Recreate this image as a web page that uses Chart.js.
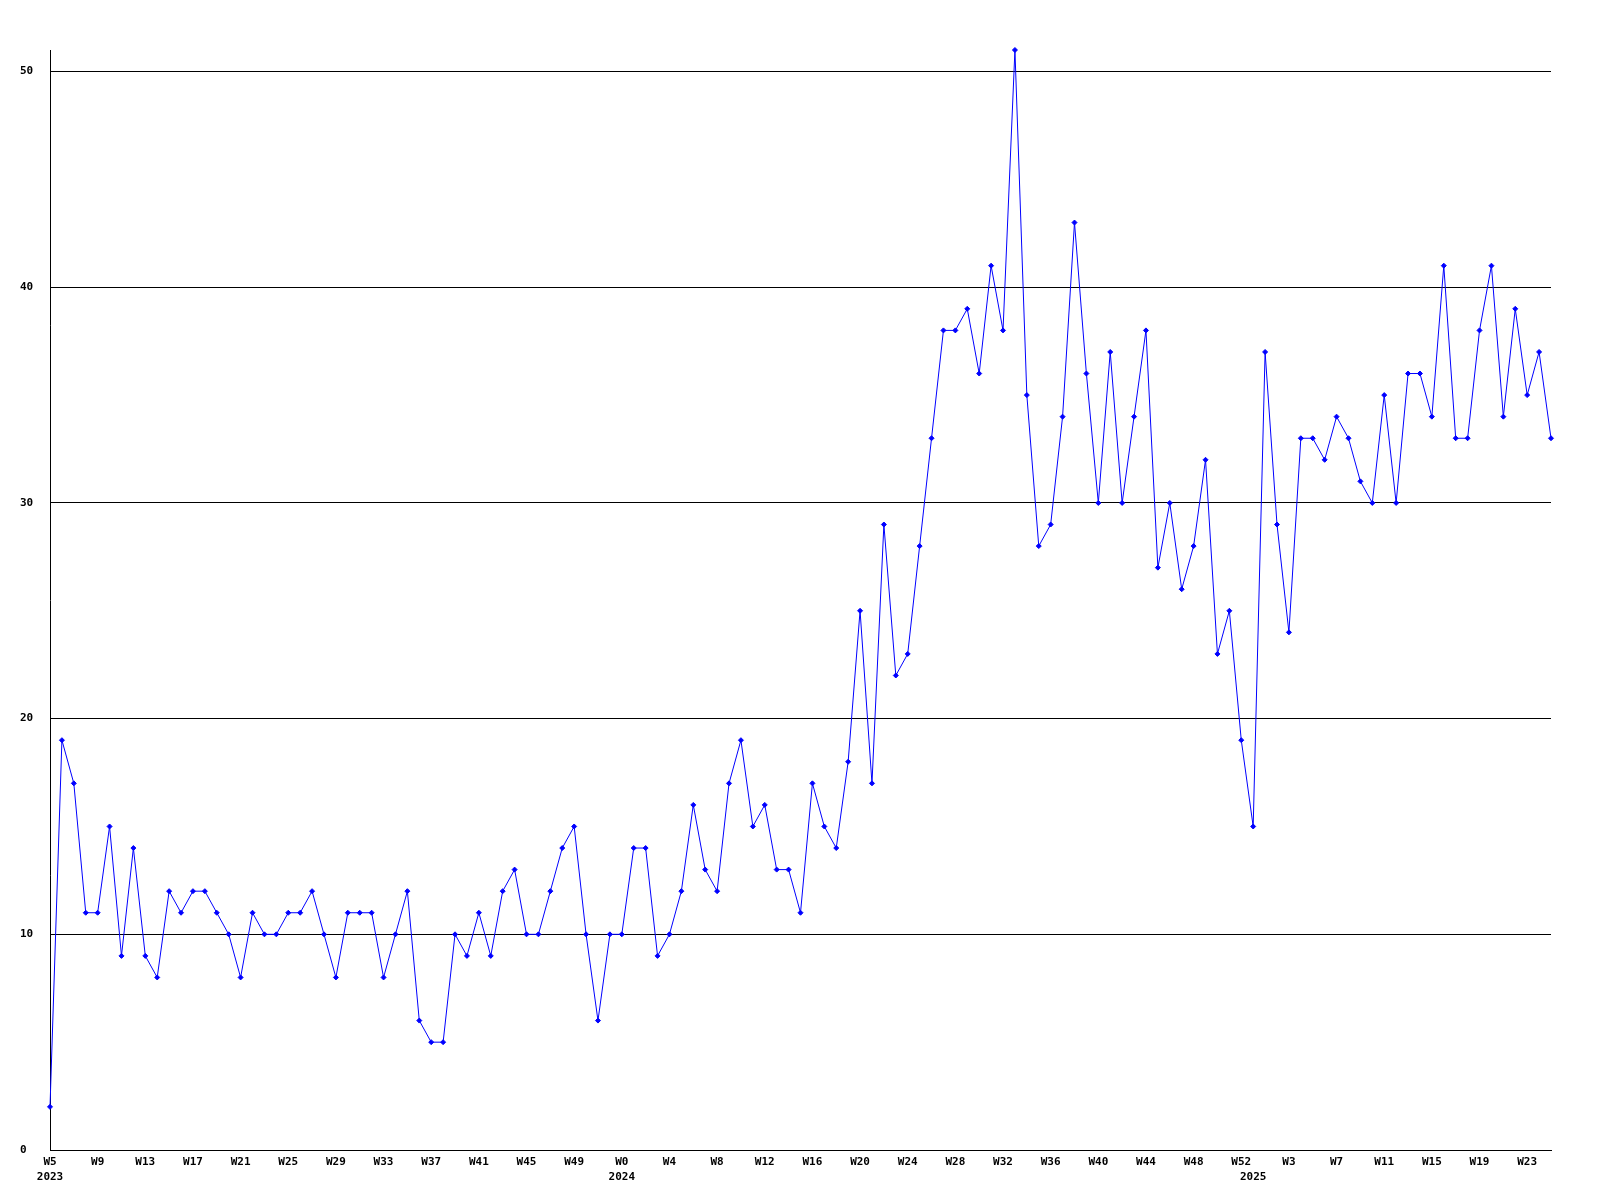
<!DOCTYPE html>
<html>
<head>
<meta charset="utf-8">
<title>Weekly count</title>
<script src="https://cdn.jsdelivr.net/npm/chart.js@4/dist/chart.umd.min.js"></script>
<style>
    body { margin: 0; background: #ffffff; }
    #chart { display: block; }
</style>
</head>
<body>
<canvas id="chart" width="1600" height="1200"></canvas>
<script>
// week categories per year (as on the x axis)
const weeks2023 = ['W5', 'W6', 'W7', 'W8', 'W9', 'W10', 'W11', 'W12', 'W13', 'W14', 'W15', 'W16',
    'W17', 'W18', 'W19', 'W20', 'W21', 'W22', 'W23', 'W24', 'W25', 'W26', 'W27', 'W28',
    'W29', 'W30', 'W31', 'W32', 'W33', 'W34', 'W35', 'W36', 'W37', 'W38', 'W39', 'W40',
    'W41', 'W42', 'W43', 'W44', 'W45', 'W46', 'W47', 'W48', 'W49', 'W50', 'W51', 'W52'];
const weeks2024 = ['W0', 'W1', 'W2', 'W3', 'W4', 'W5', 'W6', 'W7', 'W8', 'W9', 'W10', 'W11', 'W12',
    'W13', 'W14', 'W15', 'W16', 'W17', 'W18', 'W19', 'W20', 'W21', 'W22', 'W23', 'W24',
    'W25', 'W26', 'W27', 'W28', 'W29', 'W30', 'W31', 'W32', 'W33', 'W34', 'W35', 'W36',
    'W37', 'W38', 'W39', 'W40', 'W41', 'W42', 'W43', 'W44', 'W45', 'W46', 'W47', 'W48',
    'W49', 'W50', 'W51', 'W52'];
const weeks2025 = ['W0', 'W1', 'W2', 'W3', 'W4', 'W5', 'W6', 'W7', 'W8', 'W9', 'W10', 'W11', 'W12',
    'W13', 'W14', 'W15', 'W16', 'W17', 'W18', 'W19', 'W20', 'W21', 'W22', 'W23', 'W24', 'W25'];

const yearLabels = ['2023', '2024', '2025'];

// weekly values
const values2023 = [2, 19, 17, 11, 11, 15, 9, 14, 9, 8, 12, 11, 12, 12, 11, 10, 8, 11, 10, 10,
    11, 11, 12, 10, 8, 11, 11, 11, 8, 10, 12, 6, 5, 5, 10, 9, 11, 9, 12, 13,
    10, 10, 12, 14, 15, 10, 6, 10];
const values2024 = [10, 14, 14, 9, 10, 12, 16, 13, 12, 17, 19, 15, 16, 13, 13, 11, 17, 15, 14, 18,
    25, 17, 29, 22, 23, 28, 33, 38, 38, 39, 36, 41, 38, 51, 35, 28, 29, 34, 43, 36,
    30, 37, 30, 34, 38, 27, 30, 26, 28, 32, 23, 25, 19];
const values2025 = [15, 37, 29, 24, 33, 33, 32, 34, 33, 31, 30, 35, 30, 36, 36, 34, 41, 33, 33, 38,
    41, 34, 39, 35, 37, 33];

const yTickStep = 10;
const labelEvery = 4;

// build the category list and remember where each year starts
const weekGroups = [weeks2023, weeks2024, weeks2025];
const labels = [];
const yearStartAt = {};
weekGroups.forEach(function (group, i) {
    yearStartAt[labels.length] = yearLabels[i];
    group.forEach(function (w) { labels.push(w); });
});
const values = values2023.concat(values2024, values2025);

const tickFont = { family: 'DejaVu Sans Mono', size: 11, weight: 'bold', lineHeight: '15px' };

const ctx = document.getElementById('chart').getContext('2d');
new Chart(ctx, {
    type: 'line',
    data: {
        labels: labels,
        datasets: [{
            data: values,
            borderColor: '#0000ff',
            backgroundColor: '#0000ff',
            borderWidth: 1,
            tension: 0,
            pointStyle: 'rectRot',
            pointRadius: 2.5,
            pointBorderWidth: 1,
            pointBackgroundColor: '#0000ff',
            pointBorderColor: '#0000ff',
            clip: false
        }]
    },
    options: {
        responsive: false,
        animation: false,
        devicePixelRatio: 1,
        layout: { padding: { left: 20, top: 50, right: 49, bottom: 0 } },
        plugins: {
            legend: { display: false },
            tooltip: { enabled: false }
        },
        scales: {
            x: {
                grid: { display: false, drawTicks: false },
                border: { display: true, color: '#000000', width: 1 },
                ticks: {
                    autoSkip: false,
                    maxRotation: 0,
                    minRotation: 0,
                    padding: 5,
                    color: '#000000',
                    font: tickFont,
                    callback: function (value, index) {
                        const week = index % labelEvery === 0 ? labels[index] : '';
                        if (yearStartAt[index]) {
                            return [week, yearStartAt[index]];
                        }
                        return week;
                    }
                },
                afterFit: function (scale) { scale.height = 50; }
            },
            y: {
                min: 0,
                max: Math.max.apply(null, values),
                grid: { color: '#000000', lineWidth: 1, drawTicks: false },
                border: { display: true, color: '#000000', width: 1 },
                ticks: {
                    stepSize: yTickStep,
                    includeBounds: false,
                    crossAlign: 'far',
                    color: '#000000',
                    font: tickFont
                },
                afterFit: function (scale) { scale.width = 30; }
            }
        }
    }
});
</script>
</body>
</html>
